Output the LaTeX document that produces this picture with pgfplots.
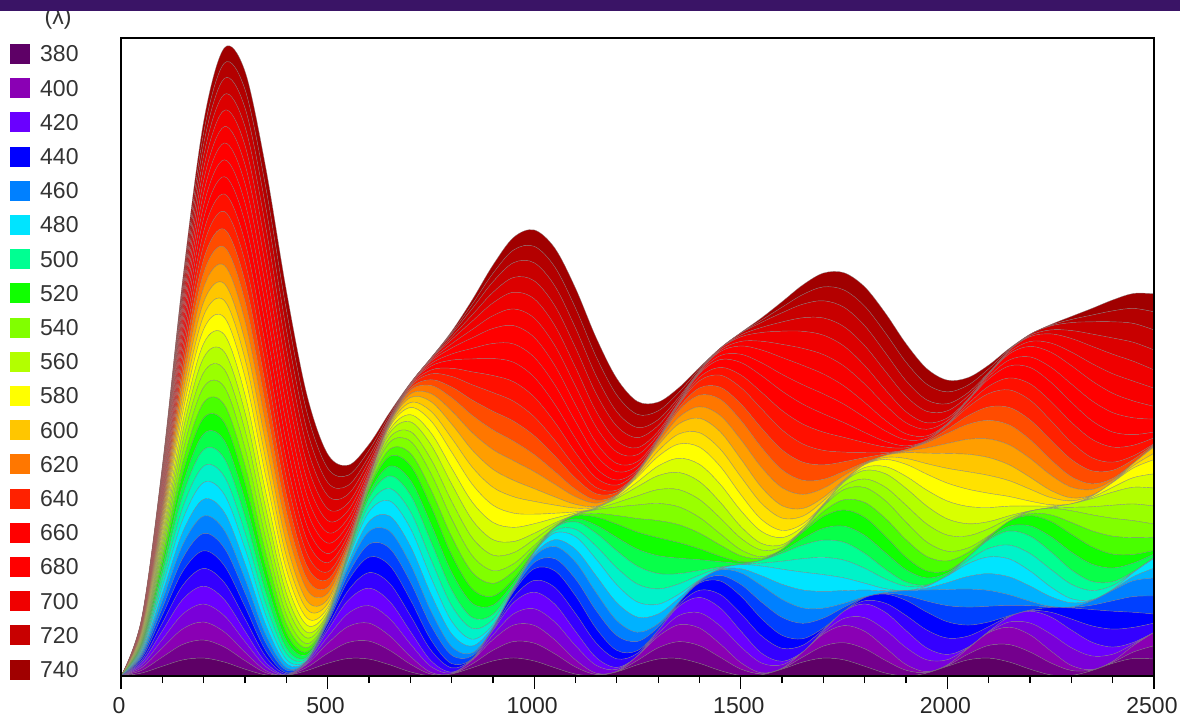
\documentclass[border=0pt]{standalone}
\usepackage{pgfplots}
\usepackage{pgfplotstable}
\usepackage{fontspec}
\setmainfont{Liberation Sans}
\pgfplotsset{compat=1.18}
\definecolor{c0}{HTML}{5E0066}
\definecolor{c1}{HTML}{8A00B4}
\definecolor{c2}{HTML}{6A00FF}
\definecolor{c3}{HTML}{0000FF}
\definecolor{c4}{HTML}{0080FF}
\definecolor{c5}{HTML}{00E4FF}
\definecolor{c6}{HTML}{00FF92}
\definecolor{c7}{HTML}{10FF00}
\definecolor{c8}{HTML}{81FF00}
\definecolor{c9}{HTML}{B3FF00}
\definecolor{c10}{HTML}{FFFF00}
\definecolor{c11}{HTML}{FFC600}
\definecolor{c12}{HTML}{FF7700}
\definecolor{c13}{HTML}{FF2100}
\definecolor{c14}{HTML}{FF0000}
\definecolor{c15}{HTML}{FF0000}
\definecolor{c16}{HTML}{F00000}
\definecolor{c17}{HTML}{C80000}
\definecolor{c18}{HTML}{A00000}
\pgfplotstableread[row sep=\\]{y\\0\\2.9\\9.7\\16.1\\17.9\\13.9\\6.8\\1.1\\.5\\5.4\\12.6\\17.5\\16.9\\11.2\\4.1\\.1\\1.9\\8.2\\15\\18\\15\\8.2\\1.9\\.1\\4.1\\11.2\\16.9\\17.5\\12.6\\5.4\\.5\\1.1\\6.8\\13.9\\17.9\\16.1\\9.7\\2.9\\0\\2.9\\9.7\\16.1\\17.9\\13.9\\6.8\\1.1\\.5\\5.4\\12.6\\17.5\\16.9\\}\tblA
\pgfplotstableread[row sep=\\]{y\\0\\5.4\\18.3\\31.1\\36\\30.1\\17\\4.4\\.1\\6.4\\19.8\\32\\35.9\\28.9\\15.5\\3.5\\.2\\7.6\\21.2\\32.9\\35.6\\27.8\\14.1\\2.7\\.5\\8.8\\22.6\\33.7\\35.3\\26.6\\12.8\\2\\.9\\10\\24\\34.3\\34.9\\25.3\\11.4\\1.4\\1.4\\11.4\\25.3\\34.9\\34.3\\24\\10\\.9\\2\\12.8\\26.6\\}\tblB
\pgfplotstableread[row sep=\\]{y\\0\\4.9\\17\\29.6\\35.9\\32.4\\21\\8.1\\.5\\2.5\\13\\26.2\\35\\34.5\\25\\11.7\\1.8\\.8\\9.2\\22.4\\33.2\\35.7\\28.5\\15.6\\4\\0\\5.9\\18.3\\30.6\\36\\31.6\\19.7\\7\\.2\\3.2\\14.3\\27.4\\35.4\\33.9\\23.7\\10.4\\1.3\\1.3\\10.4\\23.7\\33.9\\35.4\\27.4\\14.3\\3.2\\.2\\}\tblC
\pgfplotstableread[row sep=\\]{y\\0\\4.5\\15.7\\28.1\\35.4\\34\\24.6\\11.9\\2.2\\.4\\7.3\\19.6\\31\\36\\31.9\\20.9\\8.5\\.7\\1.7\\10.8\\23.5\\33.4\\35.7\\29.1\\17\\5.4\\0\\3.6\\14.4\\27\\35\\34.6\\25.9\\13.2\\2.9\\.2\\6.4\\18.3\\30.2\\35.9\\32.7\\22.1\\9.5\\1.1\\1.1\\9.5\\22.1\\32.7\\35.9\\30.2\\18.3\\}\tblD
\pgfplotstableread[row sep=\\]{y\\0\\4.1\\14.6\\26.7\\34.7\\35.2\\27.7\\15.9\\5\\0\\3.4\\13.4\\25.6\\34.2\\35.5\\28.8\\17.1\\5.8\\.2\\2.7\\12.2\\24.3\\33.7\\35.7\\29.7\\18.3\\6.8\\.4\\2.1\\11.1\\23.2\\33\\35.9\\30.7\\19.8\\7.8\\.7\\1.5\\9.9\\22\\32.3\\36\\31.5\\20.8\\8.8\\1\\1\\8.8\\20.8\\31.5\\36\\}\tblE
\pgfplotstableread[row sep=\\]{y\\0\\3.8\\13.6\\25.3\\33.5\\35.8\\30.2\\19.5\\8.2\\1\\1\\8.2\\19.5\\30.2\\35.8\\33.5\\25.3\\13.6\\3.8\\0\\3.8\\13.6\\25.3\\33.5\\35.8\\30.2\\19.5\\8.2\\1\\1\\8.2\\19.5\\30.2\\35.8\\33.5\\25.3\\13.6\\3.8\\0\\3.8\\13.6\\25.3\\33.5\\35.8\\30.2\\19.5\\8.2\\1\\1\\8.2\\19.5\\}\tblF
\pgfplotstableread[row sep=\\]{y\\0\\3.5\\12.7\\23.9\\32.8\\36\\32.1\\22.8\\11.6\\2.9\\0\\4.2\\13.7\\25\\33.4\\35.9\\31.4\\21.7\\10.5\\2.3\\.1\\5\\14.9\\26\\34\\35.8\\30.7\\20.6\\9.5\\1.8\\.3\\5.8\\16\\27\\34.5\\35.6\\29.8\\19.5\\8.5\\1.3\\.6\\6.6\\17.1\\28\\34.9\\35.3\\28.9\\18.3\\7.6\\.9\\.9\\}\tblG
\pgfplotstableread[row sep=\\]{y\\0\\3.2\\11.8\\22.6\\31.7\\35.9\\33.6\\25.7\\15\\5.4\\.3\\1.6\\8.8\\19.4\\29.4\\35.3\\35\\28.6\\18.2\\7.9\\1.2\\.5\\6.2\\16.1\\26.7\\34.1\\35.8\\31\\21.6\\10.8\\2.6\\0\\3.9\\12.9\\23.7\\32.4\\36\\33.1\\24.7\\14\\4.6\\.1\\2.1\\9.8\\20.5\\30.2\\35.6\\34.6\\27.6\\17.2\\7.1\\}\tblH
\pgfplotstableread[row sep=\\]{y\\0\\3\\11.1\\21.4\\30.7\\35.6\\34.7\\28.2\\18.2\\8.3\\1.5\\.3\\5\\14.1\\24.3\\32.7\\36\\33.3\\25.5\\15.1\\5.8\\.5\\1.1\\7.4\\17.2\\27.2\\34.3\\35.8\\31.4\\22.5\\12\\3.6\\0\\2.4\\10.1\\20.4\\29.9\\35.4\\35.1\\29\\19.4\\9.1\\1.9\\.1\\4.3\\13.1\\23.5\\32\\35.9\\33.8\\26.4\\}\tblI
\pgfplotstableread[row sep=\\]{y\\0\\2.8\\10.3\\20.3\\29.5\\35.1\\35.4\\30.3\\21.3\\11.3\\3.4\\0\\2.3\\9.4\\19.2\\28.7\\34.8\\35.6\\31\\22.3\\12.2\\4\\.1\\1.8\\8.6\\18.2\\27.8\\34.4\\35.8\\31.6\\23.2\\13.2\\4.6\\.3\\1.4\\7.7\\17.2\\27\\33.9\\35.9\\32.3\\24.2\\14.2\\5.4\\.5\\1\\6.9\\16.2\\26.1\\33.4\\36\\}\tblJ
\pgfplotstableread[row sep=\\]{y\\0\\2.6\\9.7\\19.2\\28.4\\34.5\\35.8\\31.9\\24\\14.3\\5.7\\.7\\.7\\5.7\\14.3\\24\\31.9\\35.8\\34.5\\28.4\\19.2\\9.7\\2.6\\0\\2.6\\9.7\\19.2\\28.4\\34.5\\35.8\\31.9\\24\\14.3\\5.7\\.7\\.7\\5.7\\14.3\\24\\31.9\\35.8\\34.5\\28.4\\19.2\\9.7\\2.6\\0\\2.6\\9.7\\19.2\\28.4\\}\tblK
\pgfplotstableread[row sep=\\]{y\\0\\2.5\\9.1\\18.2\\27.2\\33.8\\36\\33.3\\26.5\\17.3\\8.4\\2\\0\\3\\9.9\\19.2\\28.1\\34.2\\35.9\\32.8\\25.5\\16.3\\7.5\\1.6\\.1\\3.5\\10.9\\20.1\\28.8\\34.6\\35.8\\32.2\\24.7\\15.4\\6.8\\1.2\\.2\\4.1\\11.7\\21\\29.6\\35\\35.7\\31.6\\23.9\\14.4\\6\\.9\\.4\\4.7\\12.7\\}\tblL
\pgfplotstableread[row sep=\\]{y\\0\\2.3\\8.6\\17.3\\26.2\\33\\35.9\\34.3\\28.6\\20\\11.1\\3.9\\.2\\1.1\\6.4\\14.6\\23.7\\31.3\\35.5\\35.3\\30.7\\22.8\\13.6\\5.7\\.9\\.4\\4.4\\11.9\\20.9\\29.3\\34.7\\35.9\\32.4\\25.4\\16.4\\7.8\\1.8\\0\\2.7\\9.4\\18.2\\27\\33.5\\36\\33.9\\27.7\\19.1\\10.2\\3.3\\.1\\1.5\\}\tblM
\pgfplotstableread[row sep=\\]{y\\0\\2.2\\8.1\\16.4\\25.2\\32.1\\35.7\\35.1\\30.3\\22.6\\13.8\\6\\1\\.2\\3.6\\10.4\\19.1\\27.5\\33.6\\36\\34\\28.2\\20\\11.3\\4.1\\.3\\.8\\5.4\\13\\21.7\\29.6\\34.8\\35.9\\32.7\\26\\17.3\\8.8\\2.6\\0\\1.8\\7.4\\15.5\\24.2\\31.6\\35.6\\35.3\\31\\23.5\\14.6\\6.7\\1.4\\}\tblN
\pgfplotstableread[row sep=\\]{y\\0\\2\\7.7\\15.6\\24.1\\31.3\\35.4\\35.6\\31.8\\25\\16.5\\8.4\\2.5\\0\\1.7\\7\\14.7\\23.3\\30.7\\35.1\\35.7\\32.4\\25.8\\17.3\\9.1\\2.9\\.1\\1.3\\6.3\\14\\22.5\\29.9\\34.9\\35.9\\32.9\\26.5\\18.2\\9.9\\3.4\\.2\\1\\5.7\\13.1\\21.6\\29.4\\34.5\\36\\33.3\\27.2\\19.1\\10.6\\}\tblO
\pgfplotstableread[row sep=\\]{y\\0\\1.9\\7.2\\14.9\\23.1\\30.3\\34.9\\35.9\\33\\27\\19\\10.9\\4.2\\.5\\.5\\4.2\\10.9\\19\\27\\33\\35.9\\34.9\\30.3\\23.1\\14.9\\7.2\\1.9\\0\\1.9\\7.2\\14.9\\23.1\\30.3\\34.9\\35.9\\33\\27\\19\\10.9\\4.2\\.5\\.5\\4.2\\10.9\\19\\27\\33\\35.9\\34.9\\30.3\\23.1\\}\tblP
\pgfplotstableread[row sep=\\]{y\\0\\1.8\\6.9\\14.2\\22.3\\29.5\\34.4\\36\\34\\28.8\\21.5\\13.4\\6.3\\1.5\\0\\2.2\\7.5\\15\\23\\30.1\\34.7\\36\\33.6\\28.1\\20.6\\12.5\\5.6\\1.2\\.1\\2.6\\8.2\\15.7\\23.8\\30.7\\35\\35.9\\33.2\\27.5\\19.8\\11.8\\5\\.9\\.2\\3.1\\8.8\\16.5\\24.5\\31.2\\35.2\\35.8\\32.8\\}\tblQ
\pgfplotstableread[row sep=\\]{y\\0\\1.7\\6.5\\13.5\\21.4\\28.6\\33.8\\36\\34.8\\30.4\\23.7\\15.9\\8.5\\2.9\\.2\\.9\\4.8\\11.3\\19\\26.6\\32.5\\35.7\\35.5\\32\\25.9\\18.2\\10.5\\4.3\\.7\\.3\\3.3\\9.1\\16.6\\24.4\\31\\35\\35.9\\33.3\\27.9\\20.6\\12.8\\5.9\\1.4\\0\\2.1\\7.1\\14.3\\22.1\\29.2\\34.1\\36\\}\tblR
\pgfplotstableread[row sep=\\]{y\\0\\1.6\\6.2\\12.9\\20.5\\27.6\\33.1\\35.8\\35.3\\31.7\\25.7\\18.2\\10.8\\4.5\\.8\\.1\\2.7\\8\\15.1\\22.8\\29.6\\34.2\\36\\34.5\\30.1\\23.5\\15.9\\8.6\\3.1\\.3\\.6\\4.1\\10\\17.4\\25\\31.2\\35.1\\35.9\\33.5\\28.3\\21.3\\13.6\\6.8\\1.9\\0\\1.3\\5.6\\12.1\\19.7\\27\\32.6\\}\tblS
\newcommand{\lay}[3]{\addplot[stack plots=y,draw=black!50,draw opacity=.7,line width=.4pt,fill=#1,smooth,tension=.55] table[x index=0,y index=0,x expr=\coordindex*50,y expr=\thisrow{y}*#3] {#2} \closedcycle;}
\newcommand{\band}[4]{\lay{#2!50!#3}{#1}{#4}\lay{#3}{#1}{#4}}
\begin{document}
\begin{tikzpicture}[x=1pt,y=1pt]
\path[use as bounding box] (0,0) rectangle (1180,721);
\node[inner sep=0pt,font=\fontsize{23}{23}\selectfont,text=black!80] at (58,702) {(λ)};
\fill[fill={rgb,255:red,58;green,20;blue,102}] (0,710) rectangle (1180,721);
\begin{axis}[at={(121pt,45pt)},anchor=south west,scale only axis,width=1033pt,height=638pt,
  xmin=0,xmax=2500,ymin=0,ymax=638,stack plots=y,
  xtick={0,500,1000,1500,2000,2500},minor x tick num=4,ytick=\empty,
  xtick pos=bottom,tick align=outside,major tick length=13pt,minor tick length=7pt,
  tick style={black,line width=1.3pt},axis line style={line width=1.9pt},
  tick label style={font=\fontsize{23}{23}\selectfont,text=black!85},
  /pgf/number format/assume math mode=true,/pgf/number format/1000 sep={},
  xticklabel style={yshift=-5pt,xshift=-2pt},axis on top]
\lay{c0}{\tblA}{1}
\band{\tblB}{c0}{c1}{.5}
\band{\tblC}{c1}{c2}{.5}
\band{\tblD}{c2}{c3}{.5}
\band{\tblE}{c3}{c4}{.5}
\band{\tblF}{c4}{c5}{.5}
\band{\tblG}{c5}{c6}{.5}
\band{\tblH}{c6}{c7}{.5}
\band{\tblI}{c7}{c8}{.5}
\band{\tblJ}{c8}{c9}{.5}
\band{\tblK}{c9}{c10}{.5}
\band{\tblL}{c10}{c11}{.5}
\band{\tblM}{c11}{c12}{.555}
\band{\tblN}{c12}{c13}{.555}
\band{\tblO}{c13}{c14}{.555}
\band{\tblP}{c14}{c15}{.555}
\band{\tblQ}{c15}{c16}{.555}
\band{\tblR}{c16}{c17}{.555}
\band{\tblS}{c17}{c18}{.555}
\end{axis}
\foreach \n/\lam/\yy in {0/380/54,1/400/88.2,2/420/122.4,3/440/156.6,4/460/190.8,5/480/225,6/500/259.2,7/520/293.4,8/540/327.6,9/560/361.8,10/580/396,11/600/430.2,12/620/464.4,13/640/498.6,14/660/532.8,15/680/567,16/700/601.2,17/720/635.4,18/740/669.6}{
  \fill[c\n] (10,721-\yy-10) rectangle (30,721-\yy+10);
  \node[anchor=west,inner sep=0pt,font=\fontsize{23}{23}\selectfont,text=black!80] at (40,721-\yy) {\lam};
}
\end{tikzpicture}
\end{document}
